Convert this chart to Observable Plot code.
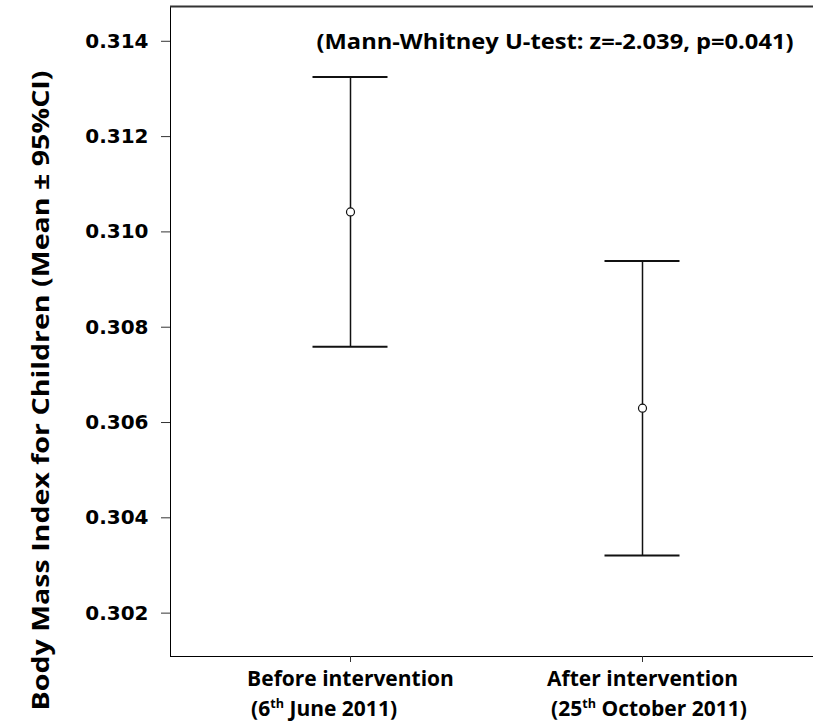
<!DOCTYPE html>
<html><head><meta charset="utf-8">
<script src="https://cdn.jsdelivr.net/npm/d3@7"></script>
<script src="https://cdn.jsdelivr.net/npm/@observablehq/plot@0.6"></script>
<style>
html,body{margin:0;padding:0;background:#fff;overflow:hidden}
</style></head><body><div id="chart"></div>
<script>
const groups = ["Before intervention\n(6th June 2011)", "After intervention\n(25th October 2011)"];
const means = [0.31042, 0.30630];
const lower = [0.30759, 0.30321];
const upper = [0.31325, 0.30939];
const yTicks = [0.302, 0.304, 0.306, 0.308, 0.310, 0.312, 0.314];
const yDomain = [0.30109, 0.31473];
const yLabel = "Body Mass Index for Children (Mean ± 95%CI)";
const note = "(Mann-Whitney U-test: z=-2.039, p=0.041)";

const data = groups.map((g, i) => ({group: g, mean: means[i], lo: lower[i], hi: upper[i]}));

const chart = Plot.plot({
  width: 813, height: 726,
  marginLeft: 170, marginRight: 0, marginTop: 6, marginBottom: 70,
  style: {fontFamily: "'Open Sans', sans-serif", fontWeight: "bold", fontSize: "21px", color: "#000", background: "#fff"},
  x: {type: "band", domain: groups, range: [204, 788], padding: 0, label: null, tickSize: 6, tickPadding: 9, line: true},
  y: {domain: yDomain, ticks: yTicks, tickFormat: d3.format(".3f"), tickSize: 9, tickPadding: 13, label: null, line: true},
  marks: [
    Plot.ruleY([yDomain[1]], {stroke: "#333", strokeWidth: 2}),
    Plot.ruleX(data, {x: "group", y1: "lo", y2: "hi", stroke: "#111", strokeWidth: 1.5}),
    Plot.tickY(data, {x: "group", y: "hi", insetLeft: 108.5, insetRight: 108.5, stroke: "#111", strokeWidth: 2}),
    Plot.tickY(data, {x: "group", y: "lo", insetLeft: 108.5, insetRight: 108.5, stroke: "#111", strokeWidth: 2}),
    Plot.dot(data, {x: "group", y: "mean", r: 4, stroke: "#111", fill: "white", strokeWidth: 1.2}),
    Plot.text([note], {text: d => d, frameAnchor: "top-right", textAnchor: "end", dx: -20, dy: 28, fontSize: 21, fontWeight: "bold", fill: "#000"}),
    Plot.text([yLabel], {text: d => d, frameAnchor: "bottom-left", rotate: -90, textAnchor: "start", dx: -122, dy: 54, fontSize: 24, fontWeight: "bold", fill: "#000"})
  ]
});
document.getElementById("chart").append(chart);

const svgns = "http://www.w3.org/2000/svg";
chart.querySelectorAll("[aria-label='y-axis tick label'], [aria-label='y-axis tick label'] text").forEach(t => {
  t.setAttribute("font-family", "DejaVu Sans");
  t.setAttribute("font-size", "20");
  t.style.setProperty("font-family", "'DejaVu Sans', sans-serif", "important");
  t.style.setProperty("font-size", "20px", "important");
});
chart.querySelectorAll("text").forEach(t => {
  if (t.textContent === yLabel) {
    t.setAttribute("textLength", "640");
    t.setAttribute("lengthAdjust", "spacingAndGlyphs");
  }
  if (t.textContent === note) {
    t.setAttribute("textLength", "477");
    t.setAttribute("lengthAdjust", "spacingAndGlyphs");
  }
});
// x tick labels: line spacing, superscripts, left-aligned block centred on its first line
chart.querySelectorAll("[aria-label='x-axis tick label'] text").forEach(t => {
  const spans = Array.from(t.querySelectorAll(":scope > tspan"));
  spans.forEach((s, i) => { if (i > 0 && s.hasAttribute("dy")) s.setAttribute("dy", "1.4em"); });
  spans.forEach(ts => {
    const m = ts.textContent.match(/^(\(\d+)th(.*)$/);
    if (m) {
      ts.textContent = m[1];
      const sup = document.createElementNS(svgns, "tspan");
      sup.setAttribute("baseline-shift", "super");
      sup.setAttribute("font-size", "0.6em");
      sup.textContent = "th";
      const rest = document.createElementNS(svgns, "tspan");
      rest.textContent = m[2];
      ts.append(sup, rest);
    }
  });
  if (spans.length > 1) {
    const w1 = spans[0].getComputedTextLength();
    t.setAttribute("text-anchor", "start");
    spans.forEach((s, i) => s.setAttribute("x", (-w1 / 2 + (i > 0 ? 4 : 0)).toFixed(1)));
  }
});
chart.querySelectorAll("[aria-label$='-axis tick']").forEach(g => g.setAttribute("stroke", "#333"));
</script></body></html>
